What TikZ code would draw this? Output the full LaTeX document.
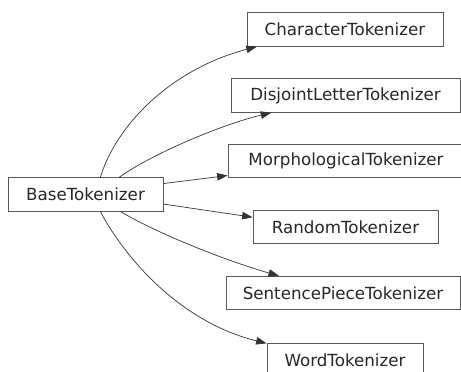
\documentclass[tikz,border=0pt]{standalone}
\usepackage{fontspec}
\setmainfont{DejaVu Sans}
\usetikzlibrary{arrows.meta}
\begin{document}
\begin{tikzpicture}[x=1pt,y=-1pt,
  cls/.style={draw=black!65,line width=0.8pt,rectangle,inner sep=0pt,
    minimum height=33.5pt,text=black!85,
    font=\fontsize{16.7}{20}\selectfont},
  inh/.style={draw=black!80,line width=0.7pt,
    -{Triangle[length=10.5pt,width=7.5pt]}}]
\useasboundingbox (0,0) rectangle (461,372);

% class boxes
\node[cls,minimum width=155pt] (base) at (85.5,194.5) {BaseTokenizer};
\node[cls,minimum width=196pt] (char) at (345,29.5) {CharacterTokenizer};
\node[cls,minimum width=229pt] (disj) at (345.5,95.5) {DisjointLetterTokenizer};
\node[cls,minimum width=236pt] (morph) at (346,161) {MorphologicalTokenizer};
\node[cls,minimum width=185pt] (rand) at (345.5,227) {RandomTokenizer};
\node[cls,minimum width=234pt] (sent) at (343,293) {SentencePieceTokenizer};
\node[cls,minimum width=156pt] (word) at (345,360) {WordTokenizer};

% inheritance edges
\draw[inh] (base.49) .. controls (115,128) and (168,70) .. (char.191);
\draw[inh] (base.27) .. controls (150,155) and (220,125) .. (disj.193);
\draw[inh] (base.8) -- (morph.187);
\draw[inh] (base.-7) -- (rand.174);
\draw[inh] (base.-26) .. controls (160,235) and (230,262) .. (sent.165);
\draw[inh] (base.-49) .. controls (125,258) and (180,322) .. (word.168);
\end{tikzpicture}
\end{document}
